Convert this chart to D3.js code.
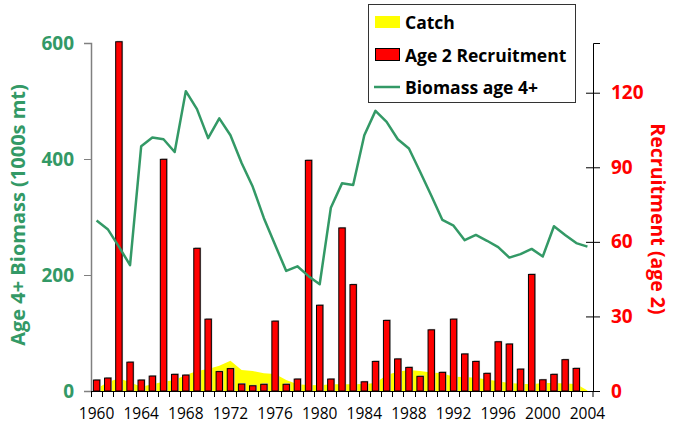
<!DOCTYPE html>
<html lang="en">
	<head>
		<meta charset="utf-8">
		<title>Biomass, recruitment and catch</title>
		<script src="https://cdn.jsdelivr.net/npm/d3@7"></script>
		<style>
			body { margin: 0; background: #fff; }
			text { font-family: "Comic Sans MS", "Open Sans", sans-serif; }
		</style>
	</head>
	<body>
		<script type="text/javascript">
			//Data
			var years = d3.range(1960, 2005);
			var recruitment = [4.4, 5.2, 140.5, 11.6, 4.4, 6, 93.2, 6.7, 6.4, 57.4,
				28.9, 7.8, 9, 2.8, 2.1, 2.7, 28.1, 2.7, 4.8, 92.8,
				34.5, 4.8, 65.6, 42.8, 3.7, 11.9, 28.4, 12.9, 9.5, 5.9,
				24.6, 7.5, 28.9, 14.9, 11.9, 7.1, 19.8, 18.9, 8.8, 46.9,
				4.5, 6.7, 12.6, 9.1];
			var biomass = [294, 279, 249, 217, 422, 437, 434, 412, 517, 486,
				436, 470, 441, 393, 352, 298, 252, 207, 215, 198,
				184, 316, 358, 355, 441, 483, 464, 434, 418, 378,
				337, 295, 285, 260, 269, 259, 248, 230, 236, 245,
				232, 284, 269, 255, 249];
			var catchData = [4, 15, 22, 15, 7.5, 11.5, 16, 19, 27.6, 34.5,
				38, 43.7, 52, 36, 34.5, 30.5, 29.3, 19, 11.5, 10.3,
				10, 11.5, 11.5, 11.5, 12, 14, 27.6, 33, 36, 34.5,
				32, 30.5, 24.7, 24, 23, 20, 17, 13.8, 12.6, 11.5,
				14, 14, 13, 12, 1];
			var leftTicks = [0, 200, 400, 600];
			var rightTicks = [0, 30, 60, 90, 120];
			var yearLabels = d3.range(1960, 2005, 4);

			var green = "#339966";

			//Create SVG element
			var svg = d3.select("body")
						.append("svg")
						.attr("width", 673)
						.attr("height", 428);

			var x = d3.scaleBand().domain(years).range([91, 593]);
			var yL = d3.scaleLinear().domain([0, 600]).range([391, 43]);
			var yR = d3.scaleLinear().domain([0, 140]).range([391, 43]);
			var bw = 6.4;

			// catch area
			var area = d3.area()
				.x(function(d, i) { return x(years[i]) + x.bandwidth() / 2; })
				.y0(yL(0))
				.y1(function(d) { return yL(d); });
			svg.append("path")
				.datum(catchData)
				.attr("d", area)
				.attr("fill", "#ffff00");

			// recruitment bars (shadow first)
			svg.selectAll("rect.shadow")
				.data(recruitment)
				.enter()
				.append("rect")
				.attr("class", "shadow")
				.attr("x", function(d, i) { return x(years[i]) + (x.bandwidth() - bw) / 2 + 1; })
				.attr("y", function(d) { return yR(d) - 1; })
				.attr("width", bw)
				.attr("height", function(d) { return yR(0) - yR(d) + 1; })
				.attr("fill", "#b8b8b8");

			svg.selectAll("rect.bar")
				.data(recruitment)
				.enter()
				.append("rect")
				.attr("class", "bar")
				.attr("x", function(d, i) { return x(years[i]) + (x.bandwidth() - bw) / 2; })
				.attr("y", function(d) { return yR(d); })
				.attr("width", bw)
				.attr("height", function(d) { return yR(0) - yR(d); })
				.attr("style", "fill:#ff0000;stroke-width:1;stroke:#000");

			// biomass line
			var line = d3.line()
				.x(function(d, i) { return x(years[i]) + x.bandwidth() / 2; })
				.y(function(d) { return yL(d); });
			svg.append("path")
				.datum(biomass)
				.attr("d", line)
				.attr("fill", "none")
				.attr("stroke", green)
				.attr("stroke-width", 2.5)
				.attr("stroke-linejoin", "round");

			// left axis
			var gL = svg.append("g")
				.attr("transform", "translate(91,0)")
				.call(d3.axisLeft(yL).tickValues(leftTicks).tickSize(7).tickPadding(10));
			gL.select(".domain").attr("stroke", "#808080").attr("stroke-width", 1.5);
			gL.selectAll(".tick line").attr("stroke", "#808080");
			gL.selectAll(".tick text")
				.attr("fill", green)
				.attr("font-size", 19)
				.attr("font-weight", "bold");

			// right axis
			var gR = svg.append("g")
				.attr("transform", "translate(593,0)")
				.call(d3.axisRight(yR).tickValues(rightTicks).tickSize(7).tickPadding(11));
			gR.select(".domain").attr("stroke", "#000");
			gR.selectAll(".tick line").attr("x1", -7);
			gR.selectAll(".tick text")
				.attr("fill", "#ff0000")
				.attr("font-size", 19)
				.attr("font-weight", "bold");

			// bottom axis
			svg.append("line")
				.attr("x1", 91).attr("x2", 593)
				.attr("y1", 391.5).attr("y2", 391.5)
				.attr("stroke", "#000");
			svg.selectAll("line.xtick")
				.data(years.concat([2005]))
				.enter()
				.append("line")
				.attr("class", "xtick")
				.attr("x1", function(d) { return d === 2005 ? 593 : Math.round(x(d)) + 0.5; })
				.attr("x2", function(d) { return d === 2005 ? 593 : Math.round(x(d)) + 0.5; })
				.attr("y1", 391)
				.attr("y2", 397)
				.attr("stroke", "#000");
			svg.selectAll("text.xlab")
				.data(yearLabels)
				.enter()
				.append("text")
				.attr("class", "xlab")
				.attr("x", function(d) { return x(d) + x.bandwidth() / 2; })
				.attr("y", 419)
				.attr("text-anchor", "middle")
				.attr("font-size", 15.5)
				.text(function(d) { return d; });

			// axis titles
			svg.append("text")
				.attr("transform", "translate(25,215) rotate(-90)")
				.attr("text-anchor", "middle")
				.attr("fill", green)
				.attr("font-size", 20)
				.attr("font-weight", "bold")
				.text("Age 4+ Biomass (1000s mt)");
			svg.append("text")
				.attr("transform", "translate(651,219) rotate(90)")
				.attr("text-anchor", "middle")
				.attr("fill", "#ff0000")
				.attr("font-size", 19.5)
				.attr("font-weight", "bold")
				.text("Recruitment (age 2)");

			// legend
			var lg = svg.append("g");
			lg.append("rect")
				.attr("x", 368.5).attr("y", 4.5)
				.attr("width", 207).attr("height", 98)
				.attr("fill", "#fff")
				.attr("stroke", "#333");
			lg.append("rect")
				.attr("x", 375).attr("y", 16).attr("width", 25).attr("height", 12)
				.attr("fill", "#ffff00");
			lg.append("rect")
				.attr("x", 375.5).attr("y", 48.5).attr("width", 24).attr("height", 12)
				.attr("style", "fill:#ff0000;stroke-width:1;stroke:#000");
			lg.append("line")
				.attr("x1", 374).attr("x2", 400).attr("y1", 87).attr("y2", 87)
				.attr("stroke", green).attr("stroke-width", 2.5);
			var legendNames = ["Catch", "Age 2 Recruitment", "Biomass age 4+"];
			lg.selectAll("text")
				.data(legendNames)
				.enter()
				.append("text")
				.attr("x", 405)
				.attr("y", function(d, i) { return 29 + i * 32.5; })
				.attr("font-size", 17.5)
				.attr("font-weight", "bold")
				.text(function(d) { return d; });
		</script>
	</body>
</html>
